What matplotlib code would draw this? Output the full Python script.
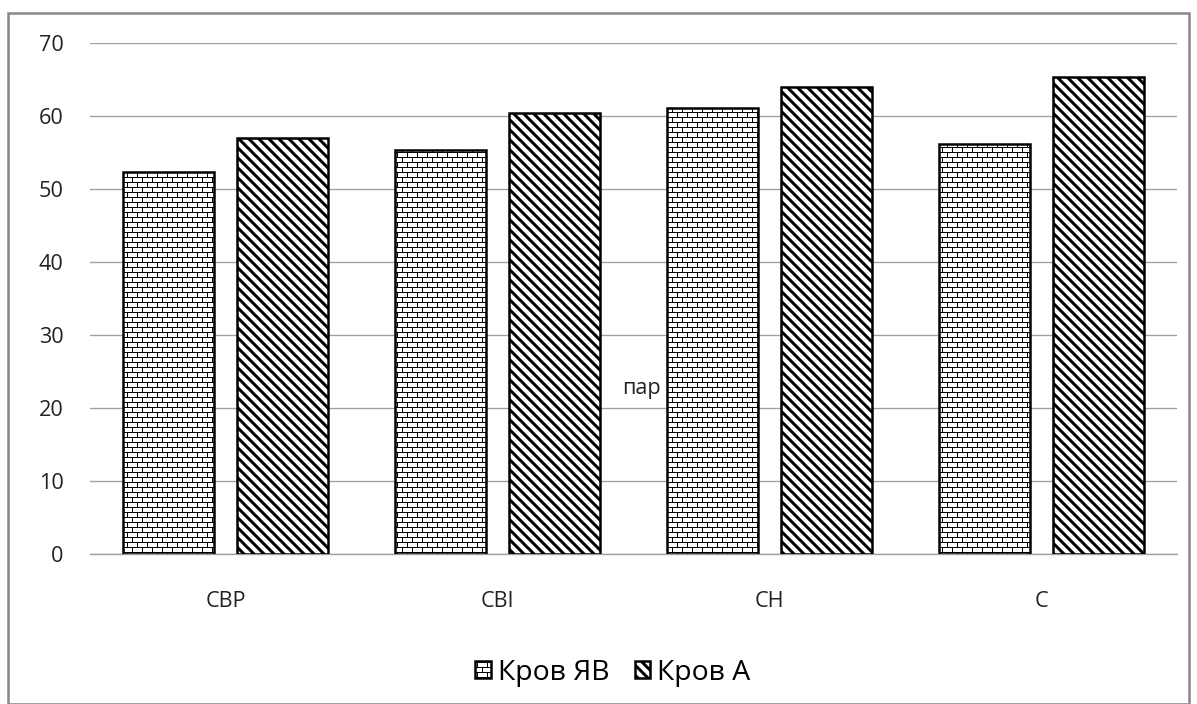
import warnings
import numpy as np
import matplotlib
matplotlib.use("Agg")
import matplotlib.pyplot as plt
import matplotlib.hatch as mhatch
from matplotlib.path import Path
from matplotlib.patches import Rectangle

warnings.filterwarnings("ignore")

# data
categories = ["CBP", "CBI", "CH", "C"]
krov_yav = [52.3, 55.3, 61.1, 56.2]
krov_a = [57.0, 60.4, 64.0, 65.3]
series_names = ["Кров ЯВ", "Кров А"]
yticks = [0, 10, 20, 30, 40, 50, 60, 70]

BSL = chr(92)  # backslash


# brick hatch ('b')
class BrickHatch(mhatch.HatchPatternBase):
    def __init__(self, hatch, density):
        n = hatch.count("b")
        self.rows = 24 * n
        self.cols = 12 * n
        if n:
            self.num_lines = self.rows + (self.rows + 1) * self.cols
        else:
            self.num_lines = 0
        self.num_vertices = self.num_lines * 2

    def set_vertices_and_codes(self, vertices, codes):
        segs = []
        for i in range(self.rows):
            y = (i + 0.5) / self.rows
            segs.append(((0, y), (1, y)))
        for i in range(self.rows + 1):
            y0 = (i - 0.5) / self.rows
            y1 = (i + 0.5) / self.rows
            off = 0.75 if i % 2 else 0.25
            for j in range(self.cols):
                x = (j + off) / self.cols
                segs.append(((x, y0), (x, y1)))
        segs = np.array(segs)
        vertices[0::2] = segs[:, 0]
        vertices[1::2] = segs[:, 1]
        codes[0::2] = Path.MOVETO
        codes[1::2] = Path.LINETO


mhatch._hatch_types.append(BrickHatch)

plt.rcParams["font.family"] = ["Open Sans", "DejaVu Sans"]

fig = plt.figure(figsize=(1197 / 120, 704 / 120), dpi=120)
ax = fig.add_axes([90 / 1197, 1 - 554 / 704, 1087 / 1197, 511 / 704])

x = np.arange(len(categories))
w = 0.335

plt.rcParams["hatch.linewidth"] = 0.6
b1 = ax.bar(x - 0.21, krov_yav, w, color="white", edgecolor="black",
            linewidth=1.5, hatch="b", label=series_names[0], zorder=3)
plt.rcParams["hatch.linewidth"] = 1.8
b2 = ax.bar(x + 0.21, krov_a, w, color="white", edgecolor="black",
            linewidth=1.5, hatch=BSL * 4, label=series_names[1], zorder=3)
for p in b1:
    if hasattr(p, "set_hatch_linewidth"):
        p.set_hatch_linewidth(0.6)
for p in b2:
    if hasattr(p, "set_hatch_linewidth"):
        p.set_hatch_linewidth(1.8)

ax.set_xlim(-0.5, 3.5)
ax.set_ylim(0, 70)
ax.set_yticks(yticks)
ax.set_xticks(x)
ax.set_xticklabels(categories)
ax.grid(axis="y", color="#a0a0a0", linewidth=0.8, zorder=0)
for s in ["top", "right", "left"]:
    ax.spines[s].set_visible(False)
ax.spines["bottom"].set_color("#a0a0a0")
ax.tick_params(axis="both", length=0, labelsize=13, colors="#222222")
ax.tick_params(axis="y", pad=16)
ax.tick_params(axis="x", pad=22)

ax.text(1.6, 22.7, "пар", ha="right", va="center", fontsize=13, color="#222222")

leg = fig.legend(loc="lower center", ncol=2, frameon=False, fontsize=17,
                 bbox_to_anchor=(0.512, -0.012), handlelength=0.55,
                 handleheight=0.55, columnspacing=0.9, handletextpad=0.25)
for h, lw in zip(leg.legend_handles, [0.6, 1.8]):
    if hasattr(h, "set_hatch_linewidth"):
        h.set_hatch_linewidth(lw)

fig.patches.append(Rectangle((8 / 1197, 0.0), 1181 / 1197, 1 - 13 / 704,
                             transform=fig.transFigure, fill=False,
                             edgecolor="#888888", linewidth=1.5))

fig.savefig("out.png", dpi=120)
